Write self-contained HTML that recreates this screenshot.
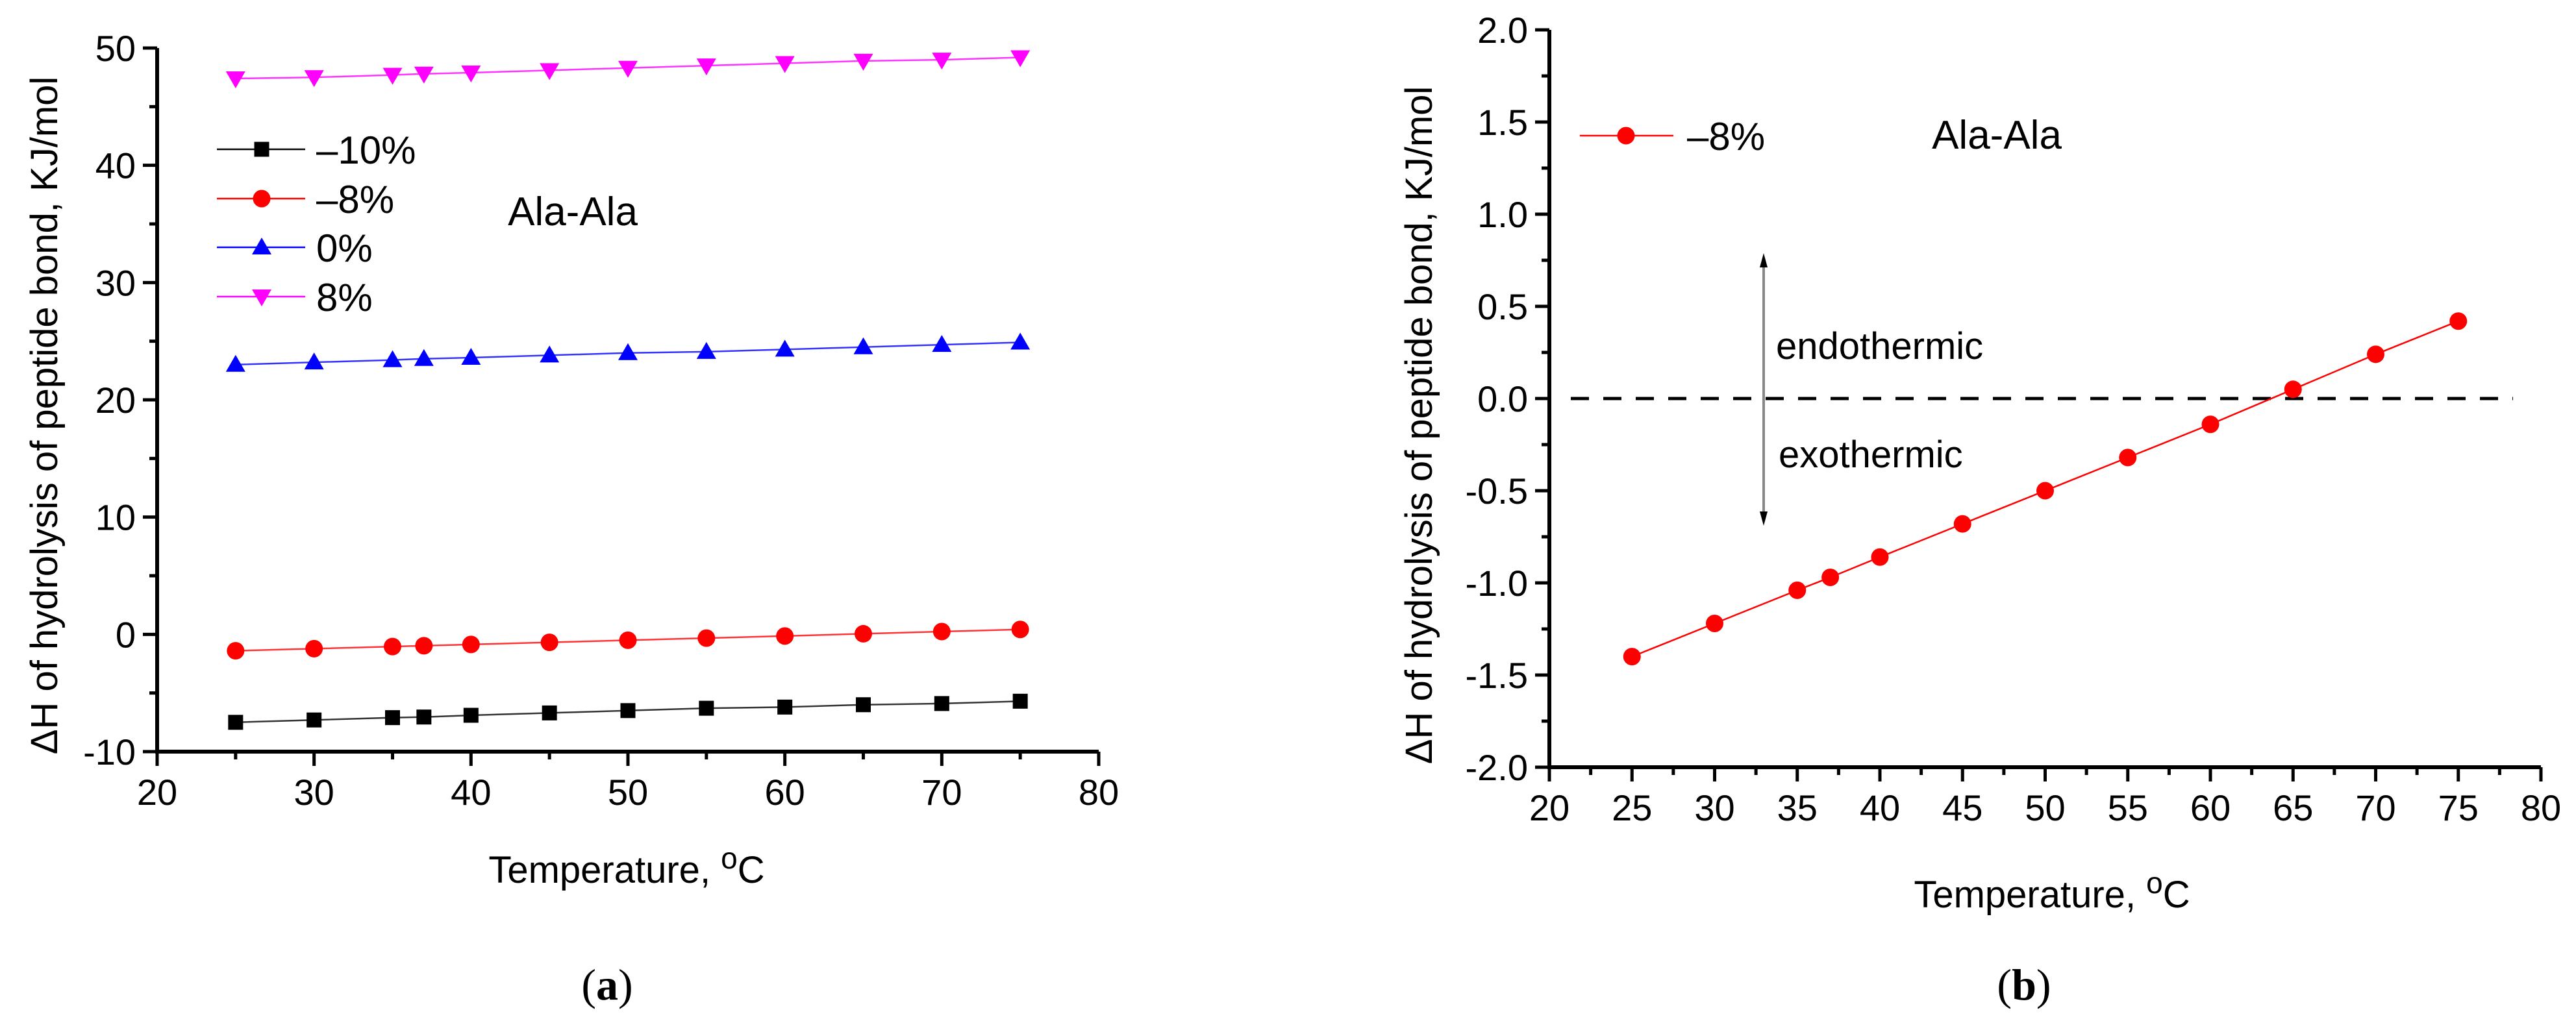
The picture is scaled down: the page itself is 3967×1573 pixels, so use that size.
<!DOCTYPE html>
<html><head><meta charset="utf-8">
<style>
body{margin:0;background:#fff;}
svg{display:block;font-family:"Liberation Sans",Arial,sans-serif;}
</style></head>
<body>
<svg id="fig" width="3967" height="1573" viewBox="0 0 3967 1573" xmlns="http://www.w3.org/2000/svg">
<g id="left"></g>
<g id="right"></g>
</svg>
<script>
const temps = [25,30,35,37,40,45,50,55,60,65,70,75];
const m10 = [-7.5,-7.3,-7.1,-7.05,-6.9,-6.7,-6.5,-6.3,-6.2,-6.0,-5.9,-5.7];
const m8 = [-1.40,-1.22,-1.04,-0.97,-0.86,-0.68,-0.50,-0.32,-0.14,0.05,0.24,0.42];
const p0 = [23.0,23.2,23.4,23.5,23.6,23.8,24.0,24.1,24.3,24.5,24.7,24.9];
const p8 = [47.4,47.5,47.7,47.8,47.9,48.1,48.3,48.5,48.7,48.9,49.0,49.2];
const leftXTicks = [20,30,40,50,60,70,80];
const leftYTicks = [-10,0,10,20,30,40,50];
const rightXTicks = [20,25,30,35,40,45,50,55,60,65,70,75,80];
const rightYTicks = [-2.0,-1.5,-1.0,-0.5,0.0,0.5,1.0,1.5,2.0];
const legendLabelsA = ["\u201310%","\u20138%","0%","8%"];

const NS="http://www.w3.org/2000/svg";
function mk(tag,attrs,parent,text){const e=document.createElementNS(NS,tag);for(const k in attrs)e.setAttribute(k,attrs[k]);if(text!==undefined)e.textContent=text;parent.appendChild(e);return e;}

function marker(g,type,x,y,color){
  let e;
  if(type==='square'){e=mk('rect',{x:x-11.5,y:y-11.5,width:23,height:23,fill:color},g);}
  else if(type==='circle'){e=mk('circle',{cx:x,cy:y,r:13.5,fill:color},g);}
  else if(type==='up'){e=mk('polygon',{points:`${x},${y-15} ${x-15},${y+11} ${x+15},${y+11}`,fill:color},g);}
  else {e=mk('polygon',{points:`${x},${y+15} ${x-15},${y-11} ${x+15},${y-11}`,fill:color},g);}
  
  
  return e;
}

function axes(g,o){
  const ax=mk('path',{d:`M${o.x0},${o.y1} L${o.x0},${o.y0} L${o.x1},${o.y0}`,stroke:'#000','stroke-width':6,fill:'none'},g);
  
  
  // y ticks
  for(let v=o.ymin; v<=o.ymax+1e-9; v+=o.yminor){
    const major=Math.abs(Math.round(v/o.ymajor)*o.ymajor-v)<1e-6;
    const y=o.Y(v);
    mk('line',{x1:o.x0-(major?22:12),x2:o.x0,y1:y,y2:y,stroke:'#000','stroke-width':5},g);
  }
  for(let v=o.xmin; v<=o.xmax+1e-9; v+=o.xminor){
    const major=Math.abs(Math.round(v/o.xmajor)*o.xmajor-v)<1e-6;
    const x=o.X(v);
    mk('line',{x1:x,x2:x,y1:o.y0,y2:o.y0+(major?22:12),stroke:'#000','stroke-width':5},g);
  }
  o.yt.forEach(v=>{const t=mk('text',{x:o.x0-33,y:o.Y(v)+20,'text-anchor':'end','font-size':56,fill:'#000'},g,o.yfmt(v));});
  o.xt.forEach(v=>{const t=mk('text',{x:o.X(v),y:o.y0+82,'text-anchor':'middle','font-size':56,fill:'#000'},g,String(v));});
  const xt=mk('text',{x:o.xtx,y:o.xty,'text-anchor':'middle','font-size':58,fill:'#000'},g);
  
  
  xt.innerHTML='Temperature, <tspan dy="-22" font-size="46">o</tspan><tspan dy="22">C</tspan>';
  const yt=mk('text',{x:0,y:0,'text-anchor':'middle','font-size':58,fill:'#000',transform:`translate(${o.ytx},${o.yty}) rotate(-90)`},g,'\u0394H of hydrolysis of peptide bond, KJ/mol');
  
  
}

// LEFT
const L=document.getElementById('left');
const LX=v=>242+(v-20)*(1692-242)/60;
const LY=v=>1158-(v+10)*(1158-74)/60;
axes(L,{x0:242,x1:1692,y0:1158,y1:74,X:LX,Y:LY,xmin:20,xmax:80,xminor:5,xmajor:10,ymin:-10,ymax:50,yminor:5,ymajor:10,xt:leftXTicks,yt:leftYTicks,yfmt:v=>String(v),xtx:965,xty:1360,ytx:88,yty:640});
const seriesA=[[m10,'#000','square'],[m8,'#ff0000','circle'],[p0,'#0000ff','up'],[p8,'#ff00ff','down']];
const sNames=['series-minus10','series-minus8','series-0','series-8'];
seriesA.forEach((s,i)=>{
  const g=mk('g',{},L);
  
  
  const line=mk('polyline',{points:temps.map((t,j)=>`${LX(t)},${LY(s[0][j])}`).join(' '),stroke:s[1],'stroke-width':2.5,fill:'none',opacity:0.8},g);
  
  
  temps.forEach((t,j)=>marker(g,s[2],LX(t),LY(s[0][j]),s[1]));
  // legend
  const ly=[230,306,381,457][i];
  const lg=mk('g',{},L);
  
  
  mk('line',{x1:334,x2:470,y1:ly,y2:ly,stroke:s[1],'stroke-width':2.5},lg);
  marker(lg,s[2],403,ly,s[1]);
  mk('text',{x:487,y:ly+22,'font-size':60,fill:'#000'},lg,legendLabelsA[i]);
});
const aa=mk('text',{x:882,y:347,'text-anchor':'middle','font-size':62,fill:'#000'},L,'Ala-Ala');


const pa=mk('text',{x:935,y:1540,'text-anchor':'middle','font-size':68,fill:'#000','font-family':'Liberation Serif, serif'},L);


pa.innerHTML='(<tspan font-weight="bold">a</tspan>)';

// RIGHT
const R=document.getElementById('right');
const RX=v=>2386+(v-20)*(3913-2386)/60;
const RY=v=>1182-(v+2)*(1182-46)/4;
axes(R,{x0:2386,x1:3913,y0:1182,y1:46,X:RX,Y:RY,xmin:20,xmax:80,xminor:2.5,xmajor:5,ymin:-2,ymax:2,yminor:0.25,ymajor:0.5,xt:rightXTicks,yt:rightYTicks,yfmt:v=>v.toFixed(1),xtx:3160,xty:1398,ytx:2205,yty:655});
const zl=mk('line',{x1:2419,x2:3870,y1:RY(0),y2:RY(0),stroke:'#000','stroke-width':5,'stroke-dasharray':'28,22'},R);


const arr=mk('g',{},R);


mk('line',{x1:2716,x2:2716,y1:400,y2:800,stroke:'#888','stroke-width':4},arr);
mk('polygon',{points:'2716,390 2710,412 2722,412',fill:'#000'},arr);
mk('polygon',{points:'2716,810 2710,788 2722,788',fill:'#000'},arr);
const en=mk('text',{x:2735,y:553,'font-size':58,fill:'#000'},R,'endothermic');


const ex=mk('text',{x:2739,y:720,'font-size':58,fill:'#000'},R,'exothermic');


const gb=mk('g',{},R);


const lb=mk('polyline',{points:temps.map((t,j)=>`${RX(t)},${RY(m8[j])}`).join(' '),stroke:'#ff0000','stroke-width':2.5,fill:'none'},gb);


temps.forEach((t,j)=>marker(gb,'circle',RX(t),RY(m8[j]),'#ff0000'));
const lgb=mk('g',{},R);


mk('line',{x1:2433,x2:2577,y1:209,y2:209,stroke:'#ff0000','stroke-width':2.5},lgb);
marker(lgb,'circle',2504,209,'#ff0000');
mk('text',{x:2598,y:231,'font-size':60,fill:'#000'},lgb,'\u20138%');
const ab=mk('text',{x:3075,y:229,'text-anchor':'middle','font-size':62,fill:'#000'},R,'Ala-Ala');


const pb=mk('text',{x:3117,y:1540,'text-anchor':'middle','font-size':68,fill:'#000','font-family':'Liberation Serif, serif'},R);


pb.innerHTML='(<tspan font-weight="bold">b</tspan>)';
</script>
</body></html>
